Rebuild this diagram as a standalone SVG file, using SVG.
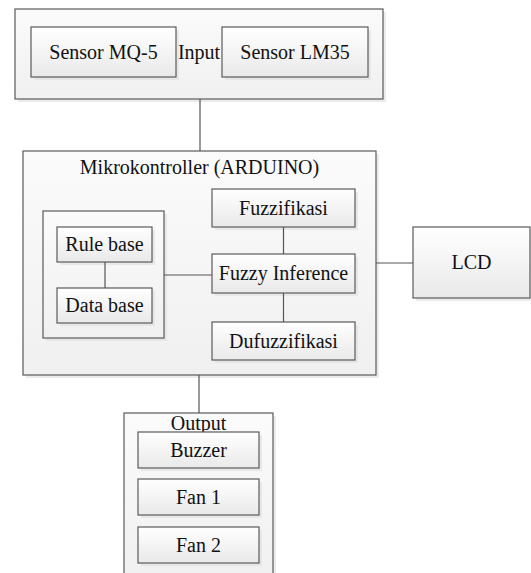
<svg xmlns="http://www.w3.org/2000/svg" width="531" height="573" viewBox="0 0 531 573">
<defs>
<linearGradient id="gBox" x1="0" y1="0" x2="0" y2="1">
<stop offset="0" stop-color="#ffffff"/>
<stop offset="1" stop-color="#e9e9e9"/>
</linearGradient>
<linearGradient id="gCont" x1="0" y1="0" x2="0" y2="1">
<stop offset="0" stop-color="#fbfbfb"/>
<stop offset="1" stop-color="#f0f0f0"/>
</linearGradient>
</defs>
<style>
.sh{fill:#dedede;opacity:0.6}
.box{fill:url(#gBox);stroke:#5a5a5a;stroke-width:1.2}
.cont{fill:url(#gCont);stroke:#5a5a5a;stroke-width:1.2}
.t{font-family:"Liberation Serif","Times New Roman",serif;font-size:20px;fill:#111;text-anchor:middle}
.ln{stroke:#555;stroke-width:1.2;fill:none}
</style>
<g id="input">
<rect class="sh" x="18" y="12" width="368" height="90"/>
<rect class="cont" x="15" y="9" width="368" height="90"/>
<text class="t" x="199" y="59">Input</text>
</g>
<g id="sensor-mq5">
<rect class="sh" x="34" y="30" width="145" height="50"/>
<rect class="box" x="31" y="27" width="145" height="50"/>
<text class="t" x="103.5" y="59">Sensor MQ-5</text>
</g>
<g id="sensor-lm35">
<rect class="sh" x="225" y="30" width="146" height="50"/>
<rect class="box" x="222" y="27" width="146" height="50"/>
<text class="t" x="295" y="59">Sensor LM35</text>
</g>
<g id="mikrokontroller">
<rect class="sh" x="26" y="154" width="353" height="224"/>
<rect class="cont" x="23" y="151" width="353" height="224"/>
<text class="t" x="199.5" y="174">Mikrokontroller (ARDUINO)</text>
</g>
<g id="knowledge-base">
<rect class="sh" x="46" y="214" width="121" height="127"/>
<rect class="cont" x="43" y="211" width="121" height="127"/>
</g>
<g id="rule-base">
<rect class="sh" x="60" y="230" width="95" height="35"/>
<rect class="box" x="57" y="227" width="95" height="35"/>
<text class="t" x="104.5" y="251">Rule base</text>
</g>
<g id="data-base">
<rect class="sh" x="60" y="291" width="95" height="35"/>
<rect class="box" x="57" y="288" width="95" height="35"/>
<text class="t" x="104.5" y="312">Data base</text>
</g>
<g id="fuzzifikasi">
<rect class="sh" x="215" y="192" width="143" height="38"/>
<rect class="box" x="212" y="189" width="143" height="38"/>
<text class="t" x="283.5" y="215">Fuzzifikasi</text>
</g>
<g id="fuzzy-inference">
<rect class="sh" x="215" y="257" width="143" height="39"/>
<rect class="box" x="212" y="254" width="143" height="39"/>
<text class="t" x="283.5" y="280">Fuzzy Inference</text>
</g>
<g id="dufuzzifikasi">
<rect class="sh" x="215" y="325" width="143" height="38"/>
<rect class="box" x="212" y="322" width="143" height="38"/>
<text class="t" x="283.5" y="348">Dufuzzifikasi</text>
</g>
<g id="lcd">
<rect class="sh" x="416" y="230" width="117" height="71"/>
<rect class="box" x="413" y="227" width="117" height="71"/>
<text class="t" x="471.5" y="269">LCD</text>
</g>
<g id="output">
<rect class="sh" x="127" y="416" width="149" height="170"/>
<rect class="cont" x="124" y="413" width="149" height="170"/>
<text class="t" x="198.5" y="430">Output</text>
</g>
<g id="buzzer">
<rect class="sh" x="141" y="435" width="121" height="36"/>
<rect class="box" x="138" y="432" width="121" height="36"/>
<text class="t" x="198.5" y="457">Buzzer</text>
</g>
<g id="fan1">
<rect class="sh" x="141" y="482" width="121" height="36"/>
<rect class="box" x="138" y="479" width="121" height="36"/>
<text class="t" x="198.5" y="504">Fan 1</text>
</g>
<g id="fan2">
<rect class="sh" x="141" y="530" width="121" height="36"/>
<rect class="box" x="138" y="527" width="121" height="36"/>
<text class="t" x="198.5" y="552">Fan 2</text>
</g>
<g id="connectors">
<line class="ln" x1="200" y1="99" x2="200" y2="151"/>
<line class="ln" x1="199" y1="375" x2="199" y2="413"/>
<line class="ln" x1="376" y1="263" x2="413" y2="263"/>
<line class="ln" x1="105" y1="262" x2="105" y2="288"/>
<line class="ln" x1="164" y1="275" x2="212" y2="275"/>
<line class="ln" x1="283.5" y1="227" x2="283.5" y2="254"/>
<line class="ln" x1="283.5" y1="293" x2="283.5" y2="322"/>
</g>
</svg>
